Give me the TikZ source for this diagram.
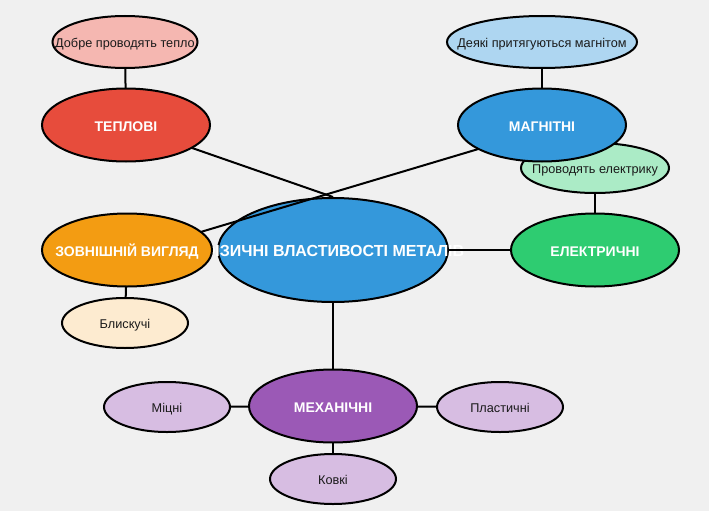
\documentclass[tikz,border=0pt]{standalone}
\usepackage{fontspec}
\setmainfont{Liberation Sans}
\usetikzlibrary{shapes.geometric}
\definecolor{bgc}{HTML}{F0F0F0}
\definecolor{redc}{HTML}{E74C3C}
\definecolor{redl}{HTML}{F5B7B1}
\definecolor{bluec}{HTML}{3498DB}
\definecolor{bluel}{HTML}{AED6F1}
\definecolor{greenc}{HTML}{2ECC71}
\definecolor{greenl}{HTML}{ABEBC6}
\definecolor{orangec}{HTML}{F39C12}
\definecolor{orangel}{HTML}{FDEBD0}
\definecolor{purplec}{HTML}{9B59B6}
\definecolor{purplel}{HTML}{D7BDE2}
\definecolor{txt}{HTML}{1A1A1A}
\pgfdeclarelayer{bottom}
\pgfdeclarelayer{mid}
\pgfsetlayers{bottom,mid,main}
\newcommand\ctxt[1]{\raisebox{-0.43em}[0pt][0pt]{\makebox[0pt]{#1}}}
\tikzset{
  ell/.style={ellipse, draw=black, line width=2pt, inner sep=0pt},
  cat/.style={ell, minimum width=168pt, minimum height=73pt, text=white,
    font=\fontsize{14}{16}\selectfont\bfseries},
  leaf/.style={ell, minimum width=126pt, minimum height=50pt, text=txt,
    font=\fontsize{12.7}{15}\selectfont},
  conn/.style={draw=black, line width=2pt}
}
\begin{document}
\begin{tikzpicture}[x=1pt,y=-1pt]
\begin{pgfonlayer}{bottom}
\fill[bgc] (0,0) rectangle (709,511);
\node[ell, fill=bluec, minimum width=230pt, minimum height=104pt] (c) at (333,250) {};
\node[text=white, font=\fontsize{16}{18}\selectfont\bfseries, inner sep=0pt] (ct) at (333,251) {ФІЗИЧНІ ВЛАСТИВОСТІ МЕТАЛІВ};
\end{pgfonlayer}
% leaves
\node[leaf, fill=redl, minimum width=145pt, minimum height=52pt] (l1) at (125,42) {\ctxt{Добре проводять тепло}};
\node[leaf, fill=bluel, minimum width=190pt, minimum height=52pt] (l2) at (542,42) {\ctxt{Деякі притягуються магнітом}};
\node[leaf, fill=greenl, minimum width=148pt, minimum height=50pt] (l3) at (595,168) {\ctxt{Проводять електрику}};
\node[leaf, fill=orangel] (l4) at (125,323) {\ctxt{Блискучі}};
\node[leaf, fill=purplel] (l5) at (167,407) {\ctxt{Міцні}};
\node[leaf, fill=purplel] (l6) at (500,407) {\ctxt{Пластичні}};
\node[leaf, fill=purplel] (l7) at (333,479) {\ctxt{Ковкі}};
% categories
\node[cat, fill=redc] (tep) at (126,125) {\ctxt{ТЕПЛОВІ}};
\node[cat, fill=bluec] (mag) at (542,125) {\ctxt{МАГНІТНІ}};
\node[cat, fill=greenc] (ele) at (595,250) {\ctxt{ЕЛЕКТРИЧНІ}};
\node[cat, fill=orangec, minimum width=170pt] (zov) at (127,250) {\ctxt{ЗОВНІШНІЙ ВИГЛЯД}};
\node[cat, fill=purplec] (mex) at (333,406) {\ctxt{МЕХАНІЧНІ}};
\begin{pgfonlayer}{mid}
\draw[conn] (tep.center) -- (c.north);
\draw[conn] ([yshift=-5pt]mag.center) -- ([yshift=-4pt]zov.center);
\draw[conn] (c.east) -- (ele.center);
\draw[conn] (c.south) -- (mex.center);
\draw[conn] (l1.center) -- (tep.center);
\draw[conn] (l2.center) -- (mag.center);
\draw[conn] (l3.center) -- (ele.center);
\draw[conn] (l4.center) -- (zov.center);
\draw[conn] (l5.center) -- (mex.center);
\draw[conn] (l6.center) -- (mex.center);
\draw[conn] (l7.center) -- (mex.center);
\end{pgfonlayer}
\end{tikzpicture}
\end{document}
